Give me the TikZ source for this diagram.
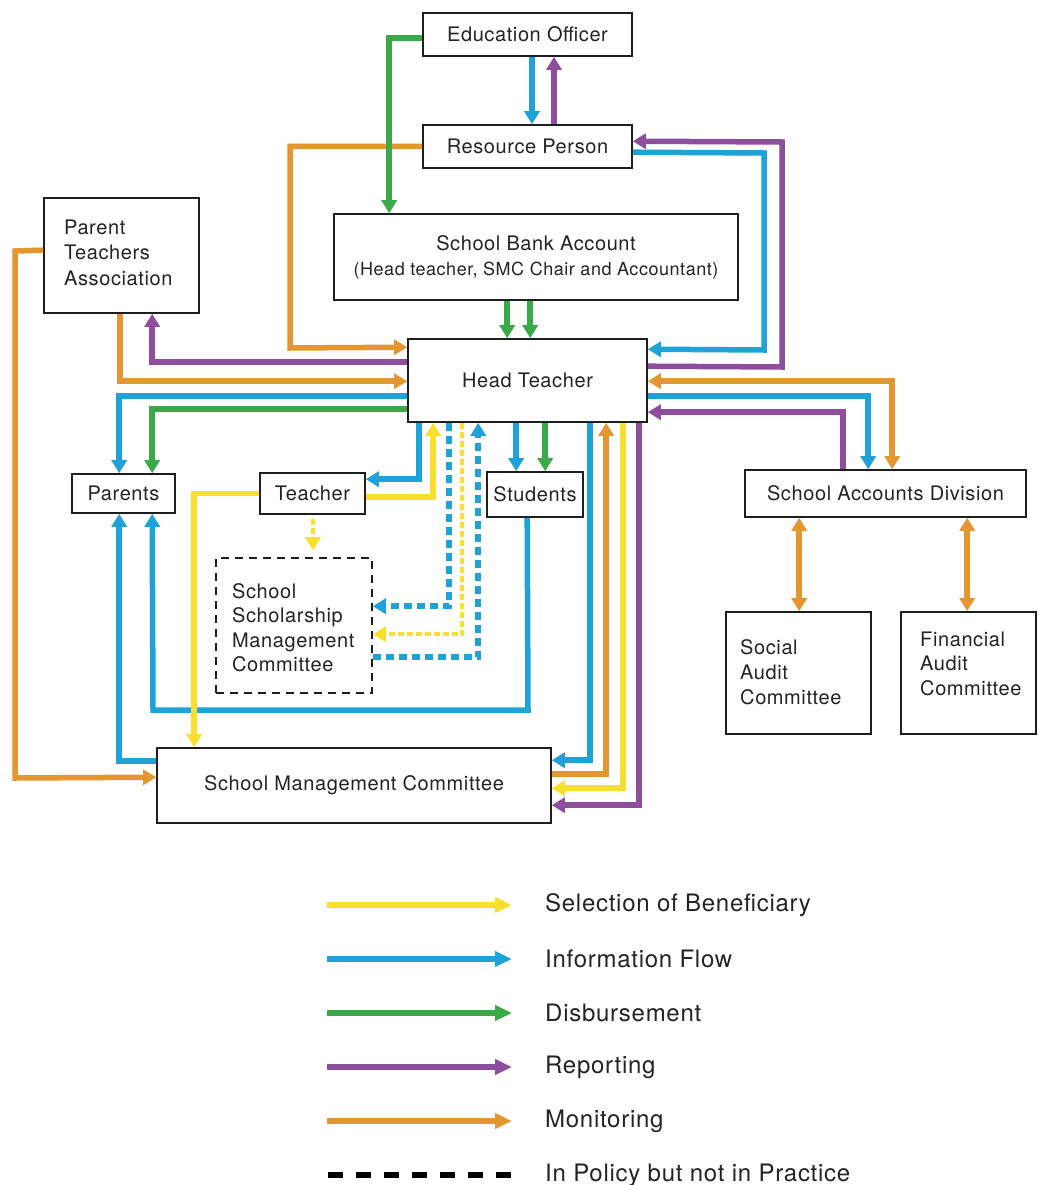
\documentclass[tikz,border=0pt]{standalone}
\usepackage{fontspec}
\setmainfont{TeX Gyre Heros}[LetterSpace=3]
\usetikzlibrary{arrows.meta,calc}
\definecolor{cY}{RGB}{249,224,45}
\definecolor{cB}{RGB}{30,162,215}
\definecolor{cG}{RGB}{58,170,72}
\definecolor{cP}{RGB}{142,78,158}
\definecolor{cO}{RGB}{228,150,48}
\definecolor{boxc}{RGB}{30,30,30}
\definecolor{txtc}{RGB}{35,35,35}
\newcommand{\bxfont}{\fontsize{20}{25}\selectfont}
\newcommand{\lgfont}{\fontsize{24}{28}\selectfont}
\tikzset{
  box/.style={draw=boxc, line width=1.6pt, inner sep=0pt, text=txtc, font=\bxfont, align=center},
  dbox/.style={box, dash pattern=on 8pt off 6pt},
  mtxt/.style={inner sep=0pt, text=txtc, font=\bxfont, align=left, anchor=north west},
  flow/.style={line width=5.5pt, -{Triangle[length=13pt,width=15pt]}},
  both/.style={line width=5.5pt, {Triangle[length=13pt,width=15pt]}-{Triangle[length=13pt,width=15pt]}},
  fY/.style={flow, draw=cY, color=cY},
  fB/.style={flow, draw=cB, color=cB},
  fG/.style={flow, draw=cG, color=cG},
  fP/.style={flow, draw=cP, color=cP},
  fO/.style={flow, draw=cO, color=cO},
  fO2/.style={both, draw=cO, color=cO},
  fBd/.style={fB, dash pattern=on 8pt off 5pt},
  fYd/.style={flow, draw=cY, color=cY, line width=3.5pt, dash pattern=on 6pt off 3pt},
  lgline/.style={line width=5.5pt, -{Triangle[length=17pt,width=15pt]}},
  lgtxt/.style={inner sep=0pt, text=txtc, font=\lgfont, anchor=west}
}
\begin{document}
\begin{tikzpicture}[x=1pt,y=-1pt]
\useasboundingbox (0,0) rectangle (1038,1185);
\fill[white] (0,0) rectangle (1038,1185);

% boxes
\node[box, minimum width=209pt, minimum height=43pt] (eo) at (527.5,34.5) {Education Officer};
\node[box, minimum width=209pt, minimum height=43pt] (rp) at (527.5,146.5) {Resource Person};
\node[box, minimum width=404pt, minimum height=86pt] (sba) at (536,257) {School Bank Account\\{\fontsize{18}{20}\selectfont (Head teacher, SMC Chair and Accountant)}};
\node[box, minimum width=155pt, minimum height=115pt] (pta) at (121.5,255.5) {};
\node[mtxt, font=\fontsize{20}{25.5}\selectfont] (ptat) at (64,219.5) {Parent\\Teachers\\Association};
\node[box, minimum width=239pt, minimum height=83pt] (ht) at (527.5,380.5) {Head Teacher};
\node[box, minimum width=103pt, minimum height=39pt] (par) at (123.5,493.5) {Parents};
\node[box, minimum width=105pt, minimum height=41pt] (tea) at (312.5,493.5) {Teacher};
\node[box, minimum width=96pt, minimum height=45pt] (stu) at (535,494.5) {Students};
\node[box, minimum width=281pt, minimum height=47pt] (sad) at (885.5,493.5) {School Accounts Division};
\node[dbox, minimum width=156pt, minimum height=135pt] (ssmc) at (294,625.5) {};
\node[mtxt, font=\fontsize{20}{24.2}\selectfont] (ssmct) at (232,583.5) {School\\Scholarship\\Management\\Committee};
\node[box, minimum width=145pt, minimum height=122pt] (soc) at (798.5,673) {};
\node[mtxt] (soct) at (740,639.5) {Social\\Audit\\Committee};
\node[box, minimum width=135pt, minimum height=122pt] (fin) at (968.5,673) {};
\node[mtxt, font=\fontsize{20}{24.5}\selectfont] (fint) at (920,631.5) {Financial\\Audit\\Committee};
\node[box, minimum width=394pt, minimum height=75pt] (smc) at (354,785.5) {School Management Committee};

% top connectors
\draw[fB] ($(eo.south)+(4.5,0)$) -- ($(rp.north)+(4.5,0)$);
\draw[fP] ($(rp.north)+(26.5,0)$) -- ($(eo.south)+(26.5,0)$);
\draw[fO] (rp.west) -- (290,146.5) -- (290,348) -- ($(ht.north west)+(0,9)$);
\draw[fG] ($(eo.west)+(0,3.5)$) -| ($(sba.north west)+(56,0)$);
\draw[fG] ($(sba.south west)+(174,0)$) -- ($(ht.north west)+(100,0)$);
\draw[fG] ($(sba.south west)+(197,0)$) -- ($(ht.north west)+(123,0)$);

% left side
\draw[fP] ($(ht.north west)+(0,24)$) -| ($(pta.south west)+(109,0)$);
\draw[fO] ($(pta.south west)+(77,0)$) |- ($(ht.north west)+(0,43)$);
\draw[fB] ($(ht.north west)+(0,58)$) -| ($(par.north west)+(48,0)$);
\draw[fG] ($(ht.north west)+(0,71)$) -| ($(par.north west)+(81,0)$);
\draw[fO] ($(pta.north west)+(0,53)$) -- (15,251) -- (15,778) -- ($(smc.north west)+(0,30)$);

% right side
\draw[fP] ($(ht.north east)+(0,28)$) -- (782,367) -- (782,142) -- ($(rp.north east)+(0,17)$);
\draw[fB] ($(rp.north east)+(0,28)$) -- (764,153) -- (764,350) -- ($(ht.north east)+(0,11)$);
\draw[fO2] ($(ht.north east)+(0,43)$) -| ($(sad.north west)+(148,0)$);
\draw[fB] ($(ht.north east)+(0,58)$) -| ($(sad.north west)+(124,0)$);
\draw[fP] ($(sad.north west)+(99,0)$) |- ($(ht.north east)+(0,74)$);
\draw[fO2] ($(sad.south west)+(55,0)$) -- ($(soc.north west)+(74,0)$);
\draw[fO2] ($(sad.south west)+(223,0)$) -- ($(fin.north west)+(67,0)$);

% below head teacher
\draw[fB] ($(ht.south west)+(12,0)$) |- ($(tea.north east)+(0,7)$);
\draw[fY] ($(tea.north east)+(0,25)$) -| ($(ht.south west)+(26,0)$);
\draw[fBd] ($(ht.south west)+(42,0)$) |- ($(ssmc.north east)+(0,49)$);
\draw[fYd] ($(ht.south west)+(55,0)$) |- ($(ssmc.north east)+(0,77)$);
\draw[fBd] ($(ssmc.north east)+(0,100)$) -| ($(ht.south west)+(71,0)$);
\draw[fB] ($(ht.south west)+(109,0)$) -- ($(stu.north west)+(30,0)$);
\draw[fG] ($(ht.south west)+(138,0)$) -- ($(stu.north west)+(59,0)$);
\draw[fB] ($(stu.south west)+(41,0)$) -- (528,710) -- (153,710) -- ($(par.south west)+(81,0)$);
\draw[fB] ($(smc.north west)+(0,14)$) -| ($(par.south west)+(48,0)$);
\draw[fY] (tea.west) -| ($(smc.north west)+(38,0)$);
\draw[fYd] ($(tea.south)+(0.5,4)$) -- ($(ssmc.north)+(19,-7)$);
\draw[fB] ($(ht.south west)+(183,0)$) |- ($(smc.north east)+(0,13)$);
\draw[fO] ($(smc.north east)+(0,27)$) -| ($(ht.south west)+(199,0)$);
\draw[fY] ($(ht.south west)+(216,0)$) |- ($(smc.north east)+(0,41)$);
\draw[fP] ($(ht.south west)+(232,0)$) |- ($(smc.north east)+(0,58)$);

% legend
\coordinate (l1a) at (327,905); \coordinate (l1b) at (512,905);
\coordinate (l2a) at (327,959); \coordinate (l2b) at (512,959);
\coordinate (l3a) at (327,1013); \coordinate (l3b) at (512,1013);
\coordinate (l4a) at (327,1067); \coordinate (l4b) at (512,1067);
\coordinate (l5a) at (327,1121); \coordinate (l5b) at (512,1121);
\coordinate (l6a) at (328,1175); \coordinate (l6b) at (512,1175);
\draw[lgline, draw=cY, color=cY] (l1a) -- (l1b);
\draw[lgline, draw=cB, color=cB] (l2a) -- (l2b);
\draw[lgline, draw=cG, color=cG] (l3a) -- (l3b);
\draw[lgline, draw=cP, color=cP] (l4a) -- (l4b);
\draw[lgline, draw=cO, color=cO] (l5a) -- (l5b);
\draw[line width=5.5pt, draw=black, dash pattern=on 15pt off 13pt] (l6a) -- (l6b);
\node[lgtxt] (t1) at (545,905) {Selection of Beneficiary};
\node[lgtxt] (t2) at (545,959) {Information Flow};
\node[lgtxt] (t3) at (545,1013) {Disbursement};
\node[lgtxt] (t4) at (545,1067) {Reporting};
\node[lgtxt] (t5) at (545,1121) {Monitoring};
\node[lgtxt] (t6) at (545,1175) {In Policy but not in Practice};
\end{tikzpicture}
\end{document}
